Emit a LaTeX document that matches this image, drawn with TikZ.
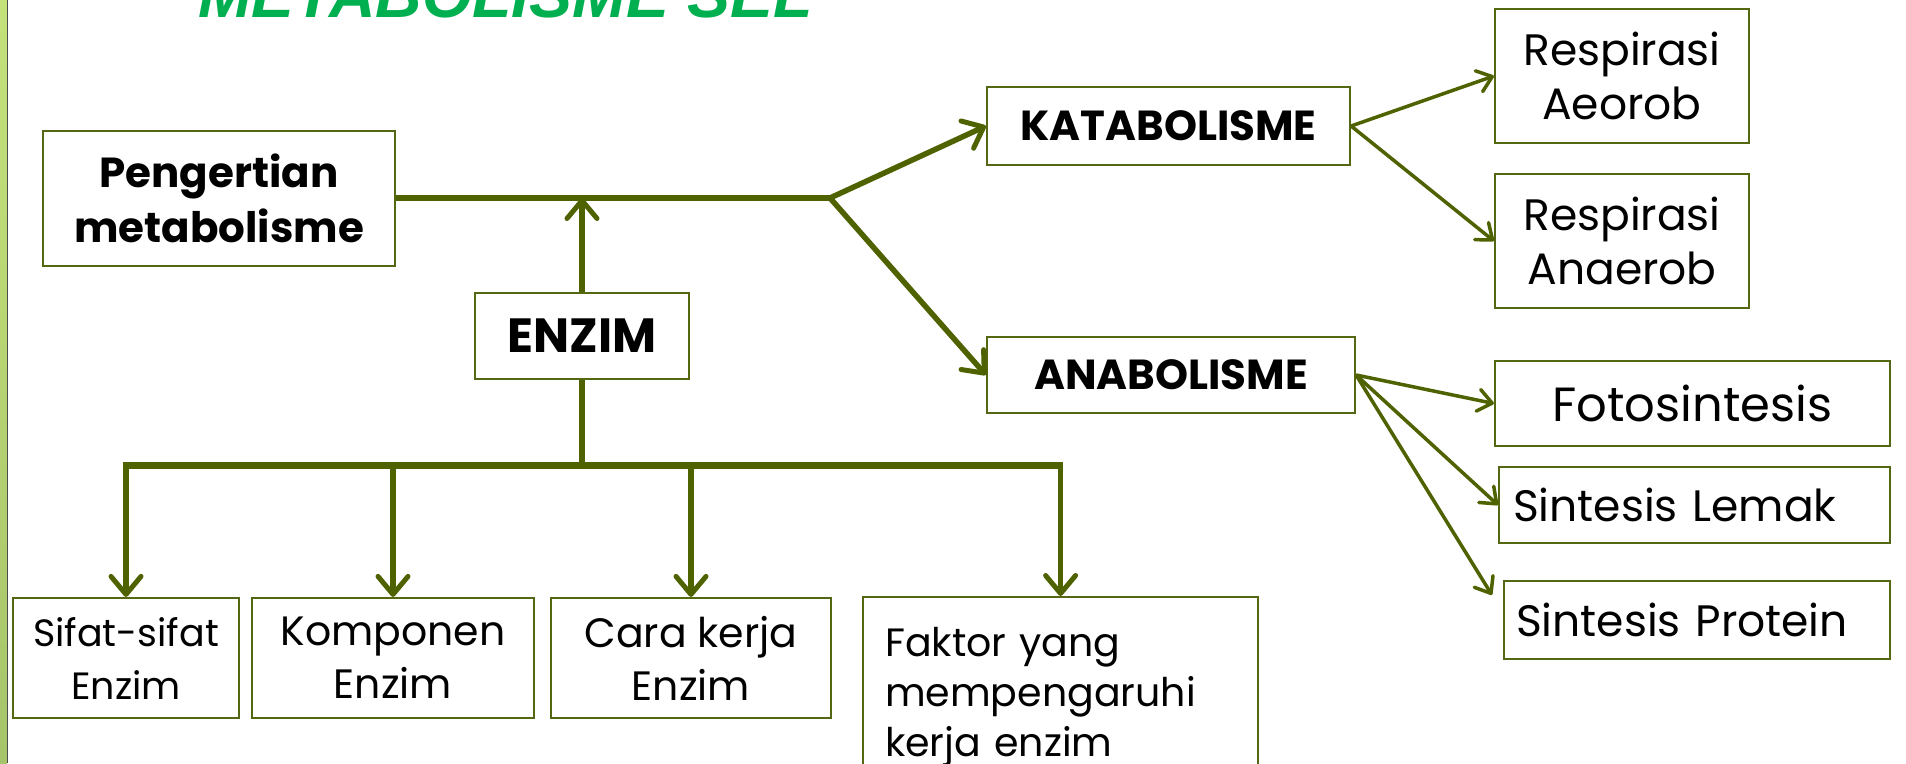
\documentclass[tikz,border=0pt]{standalone}
\usepackage{fontspec}
\setmainfont{Poppins}
\newfontfamily\titlefont{Liberation Sans}
\usetikzlibrary{arrows.meta,calc}
\definecolor{olv}{RGB}{79,98,0}
\definecolor{boxc}{RGB}{84,104,20}
\definecolor{ttl}{RGB}{0,176,80}
\begin{document}
\begin{tikzpicture}[x=1pt,y=-1pt,
  bx/.style={draw=boxc,line width=2.2pt,inner sep=0pt,align=center,text=black},
  bold/.style={font=\fontsize{42pt}{55pt}\selectfont\bfseries},
  reg/.style={font=\fontsize{44pt}{54pt}\selectfont},
  regs/.style={font=\fontsize{41pt}{53pt}\selectfont},
  ln/.style={draw=olv,line width=5.5pt},
  ar/.style={draw=olv,line width=5.5pt,-{Straight Barb[length=18pt,width=30pt,line width=5pt,round]}},
  art/.style={draw=olv,line width=3.5pt,-{Straight Barb[length=14pt,width=22pt,line width=3.5pt,round]}}]
\useasboundingbox (0,0) rectangle (1906,763);
\fill[white] (0,0) rectangle (1906,763);
% left strip
\shade[top color={rgb,255:red,196;green,226;blue,122},bottom color={rgb,255:red,166;green,196;blue,106}] (0,0) rectangle (7,763);
\draw[black!70,line width=1.5pt] (7.5,0) -- (7.5,763);
% title
\begin{scope}
\clip (0,0) rectangle (1906,763);
\node[anchor=base west,inner sep=0pt,text=ttl] (title) at (198,17)
  {\resizebox{614pt}{!}{\titlefont\bfseries\itshape METABOLISME SEL}};
\end{scope}
% boxes
\node[bx,bold,minimum width=352pt,minimum height=135pt] (pen) at (219,198.5) {Pengertian\\metabolisme};
\node[bx,font=\fontsize{48pt}{55pt}\selectfont\bfseries,minimum width=214pt,minimum height=86pt] (enz) at (582,336) {ENZIM};
\node[bx,bold,minimum width=363pt,minimum height=78pt] (kat) at (1168.5,126) {KATABOLISME};
\node[bx,bold,minimum width=368pt,minimum height=76pt] (ana) at (1171,375) {ANABOLISME};
\node[bx,reg,minimum width=254pt,minimum height=134pt] (ra) at (1622,76) {Respirasi\\Aeorob};
\node[bx,reg,minimum width=254pt,minimum height=134pt] (rn) at (1622,241) {Respirasi\\Anaerob};
\node[bx,font=\fontsize{48pt}{54pt}\selectfont,minimum width=395pt,minimum height=85pt] (fot) at (1692.5,403.5) {Fotosintesis};
\node[bx,reg,minimum width=391pt,minimum height=76pt,text width=363pt,align=left,inner xsep=14pt] (sl) at (1694.5,505) {Sintesis Lemak};
\node[bx,reg,minimum width=386pt,minimum height=78pt,text width=362pt,align=left,inner xsep=12pt] (sp) at (1697,620) {Sintesis Protein};
\node[bx,font=\fontsize{38pt}{53pt}\selectfont,minimum width=226pt,minimum height=120pt] (sif) at (126,658) {Sifat-sifat\\Enzim};
\node[bx,regs,minimum width=282pt,minimum height=120pt] (kom) at (393,658) {Komponen\\Enzim};
\node[bx,regs,minimum width=280pt,minimum height=120pt] (car) at (691,658) {Cara kerja\\Enzim};
\node[bx,font=\fontsize{39.5pt}{50pt}\selectfont,anchor=north west,minimum width=395pt,minimum height=200pt,
      text width=351pt,align=left,inner xsep=22pt] (fak) at (862,596) {Faktor yang\\mempengaruhi\\kerja enzim};
% connectors
\coordinate (J) at (830,198);
\coordinate (eb) at (582,465);
\draw[ln] (pen.east |- J) -- (J);
\draw[ar] (enz.north) -- (enz.north |- J);
\draw[ar] (J) -- (kat.west);
\draw[ar] (J) -- (ana.west);
\draw[ln] (enz.south) -- (eb);
\draw[ln,line width=7pt] ([xshift=-2.75pt]sif.north |- eb) -- ([xshift=2.75pt]fak.north |- eb);
\draw[ar] (sif.north |- eb) -- (sif.north);
\draw[ar] (kom.north |- eb) -- (kom.north);
\draw[ar] (car.north |- eb) -- (car.north);
\draw[ar] (fak.north |- eb) -- (fak.north);
\draw[art] (kat.east) -- (ra.west);
\draw[art] (kat.east) -- (rn.west);
\draw[art] (ana.east) -- (fot.west);
\draw[art] (ana.east) -- (sl.west);
\draw[art] (ana.east) -- ($(sp.north west)+(-11,15)$);
\end{tikzpicture}
\end{document}
